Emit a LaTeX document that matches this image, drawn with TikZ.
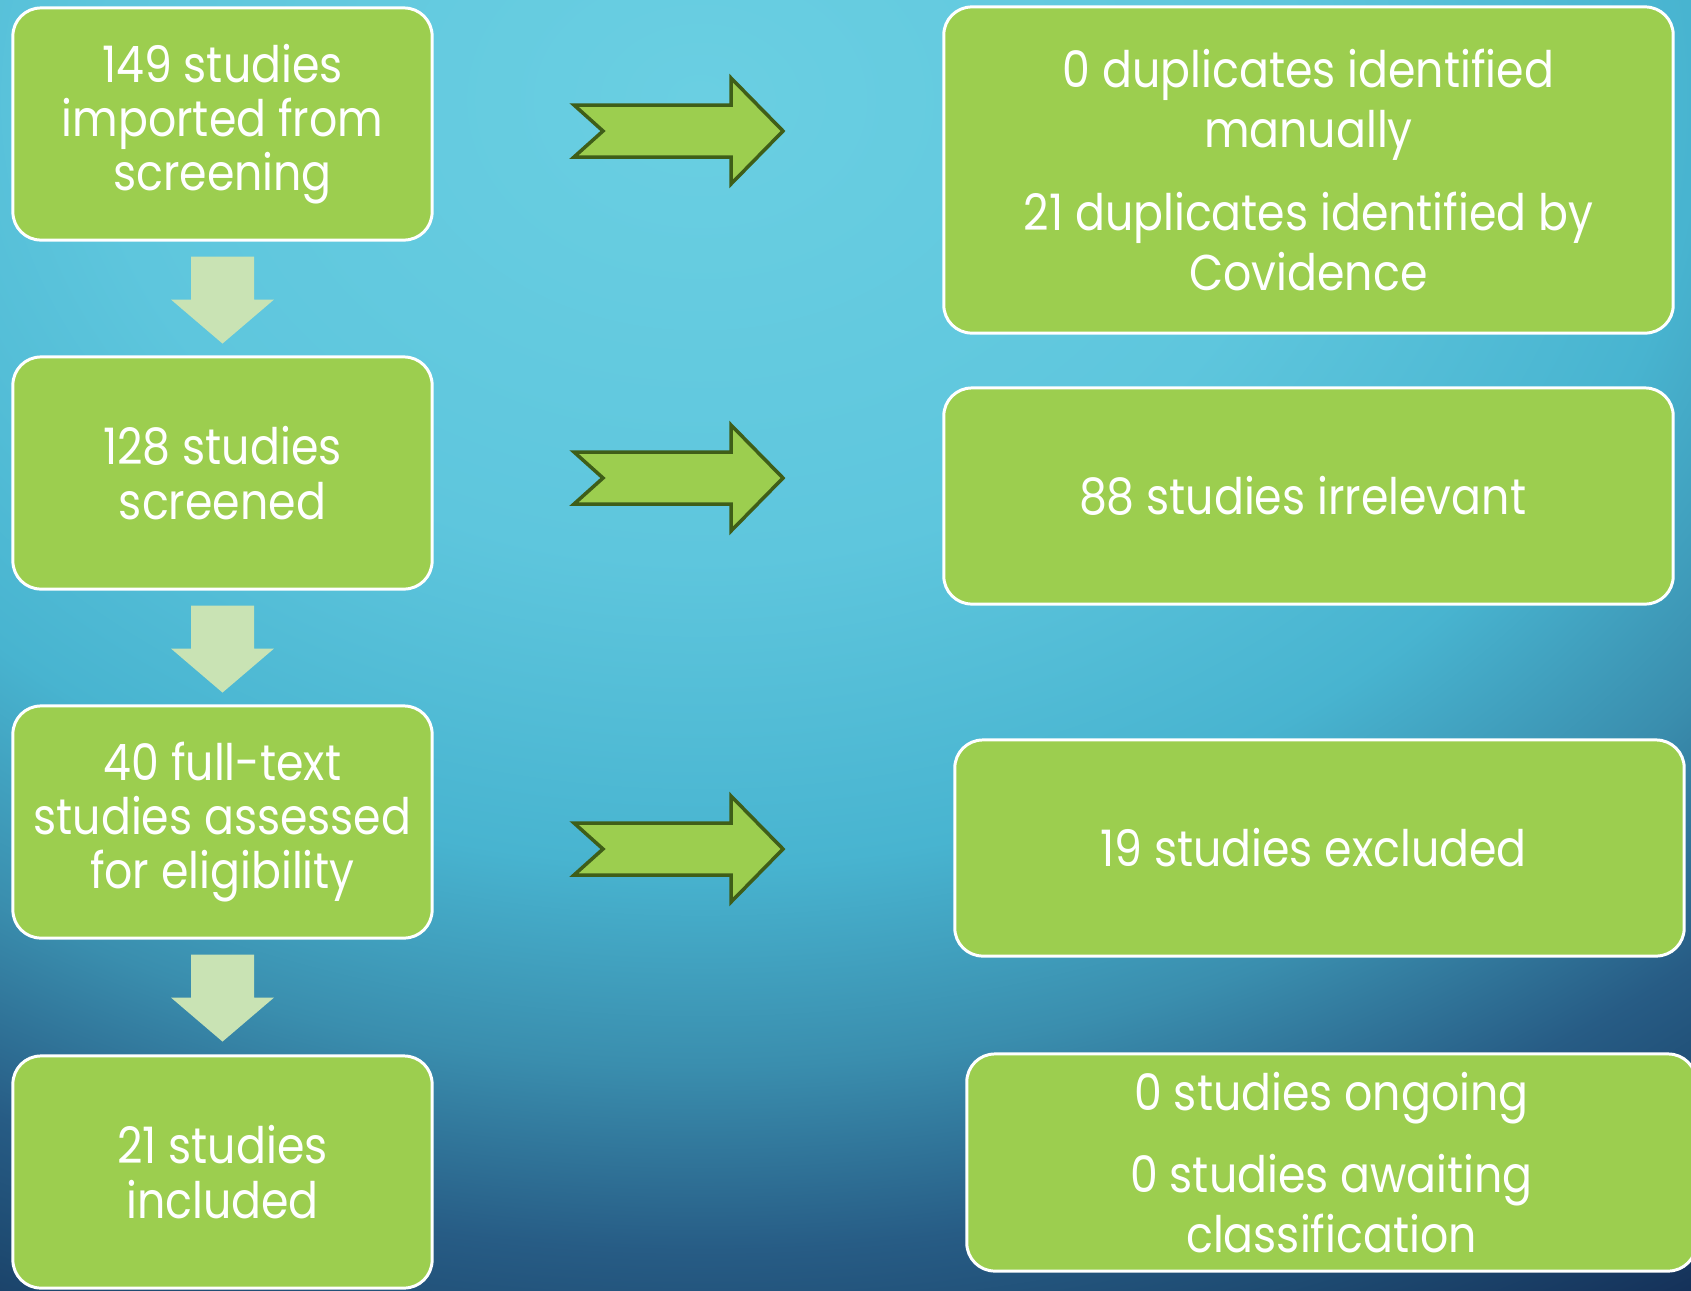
\documentclass[tikz,border=0pt]{standalone}
\usepackage{fontspec}
\setmainfont{Poppins}[FakeStretch=0.88]
\usetikzlibrary{positioning,calc}
\usepackage{xcolor}

\definecolor{boxgreen}{HTML}{9CCE4F}
\definecolor{arrowedge}{HTML}{3F5E18}
\definecolor{palegreen}{HTML}{C9E3B4}
\definecolor{bgA}{HTML}{6ACFE2}
\definecolor{bgB}{HTML}{5EC6DD}
\definecolor{bgC}{HTML}{48B4D0}
\definecolor{bgD}{HTML}{3A8EAE}
\definecolor{bgE}{HTML}{275C85}
\definecolor{bgF}{HTML}{1E4B72}
\definecolor{bgG}{HTML}{15325A}

\pgfdeclareradialshading{slidebg}{\pgfpoint{0bp}{0bp}}{color(0bp)=(bgA); color(8bp)=(bgB); color(13.3bp)=(bgC); color(16.8bp)=(bgD); color(20bp)=(bgE); color(22bp)=(bgF); color(24.5bp)=(bgG); color(50bp)=(bgG)}

\tikzset{
    block_right/.style={fill=boxgreen, draw=arrowedge, line width=1pt},
    block_down/.style={fill=palegreen, draw=none}
}

\begin{document}
\begin{tikzpicture}[x=0.01cm, y=-0.01cm, every node/.style={
    rectangle,
    rounded corners=0.28cm,
    draw=white,
    line width=0.85pt,
    fill=boxgreen,
    text=white,
    align=center,
    inner sep=0pt,
    minimum width=4.19cm,
    minimum height=2.32cm,
    font=\fontsize{14.3}{15.4}\selectfont
}]
    \useasboundingbox (0,0) rectangle (1691,1290);
    \begin{scope}
        \clip (0,0) rectangle (1691,1290);
        \shade[shading=slidebg] (700,100) ellipse (1875 and 1437.5);
    \end{scope}

    %left column
    \node (imported) [shift={(222.5,124)}]
    {
        149 studies\\imported from\\screening
    };
    \node (screened) [shift={(222.5,473)}]
    {
        128 studies\\screened
    };
    \node (fulltext) [shift={(222.5,822)}]
    {
        40 full-text\\studies assessed\\for eligibility
    };
    \node (included) [shift={(222.5,1172)}]
    {
        21 studies\\included
    };

    %right column
    \node (duplicates) [minimum width=7.29cm, minimum height=3.26cm, font=\fontsize{14.3}{17.1}\selectfont, shift={(1308.5,170)}]
    {
        0 duplicates identified\\manually\\[6.3pt]21 duplicates identified by\\Covidence
    };
    \node (irrelevant) [minimum width=7.29cm, minimum height=2.16cm, shift={(1308.5,496)}]
    {
        88 studies irrelevant
    };
    \node (excluded) [minimum width=7.29cm, minimum height=2.16cm, shift={(1319.5,848)}]
    {
        19 studies excluded
    };
    \node (ongoing) [minimum width=7.29cm, minimum height=2.17cm, font=\fontsize{14.3}{17.1}\selectfont, shift={(1331.5,1162.5)}]
    {
        0 studies ongoing\\[6.3pt]0 studies awaiting\\classification
    };

    \coordinate (arrow_duplicates) at (678.5,131);
    \coordinate (arrow_irrelevant) at (678.5,478);
    \coordinate (arrow_excluded) at (678.5,849);

    \foreach \from in {imported, screened, fulltext}
        \draw[block_down, shift={(\from.south)}] (-31.5,15) -- (31.5,15) -- (31.5,58) -- (51.5,58) -- (0,102) -- (-51.5,58) -- (-31.5,58) -- cycle;

    \foreach \at in {arrow_duplicates, arrow_irrelevant, arrow_excluded}
        \draw[block_right, shift={(\at)}] (-104.5,-26) -- (52.5,-26) -- (52.5,-53) -- (104.5,0) -- (52.5,53) -- (52.5,26) -- (-104.5,26) -- (-75.5,0) -- cycle;

\end{tikzpicture}
\end{document}
